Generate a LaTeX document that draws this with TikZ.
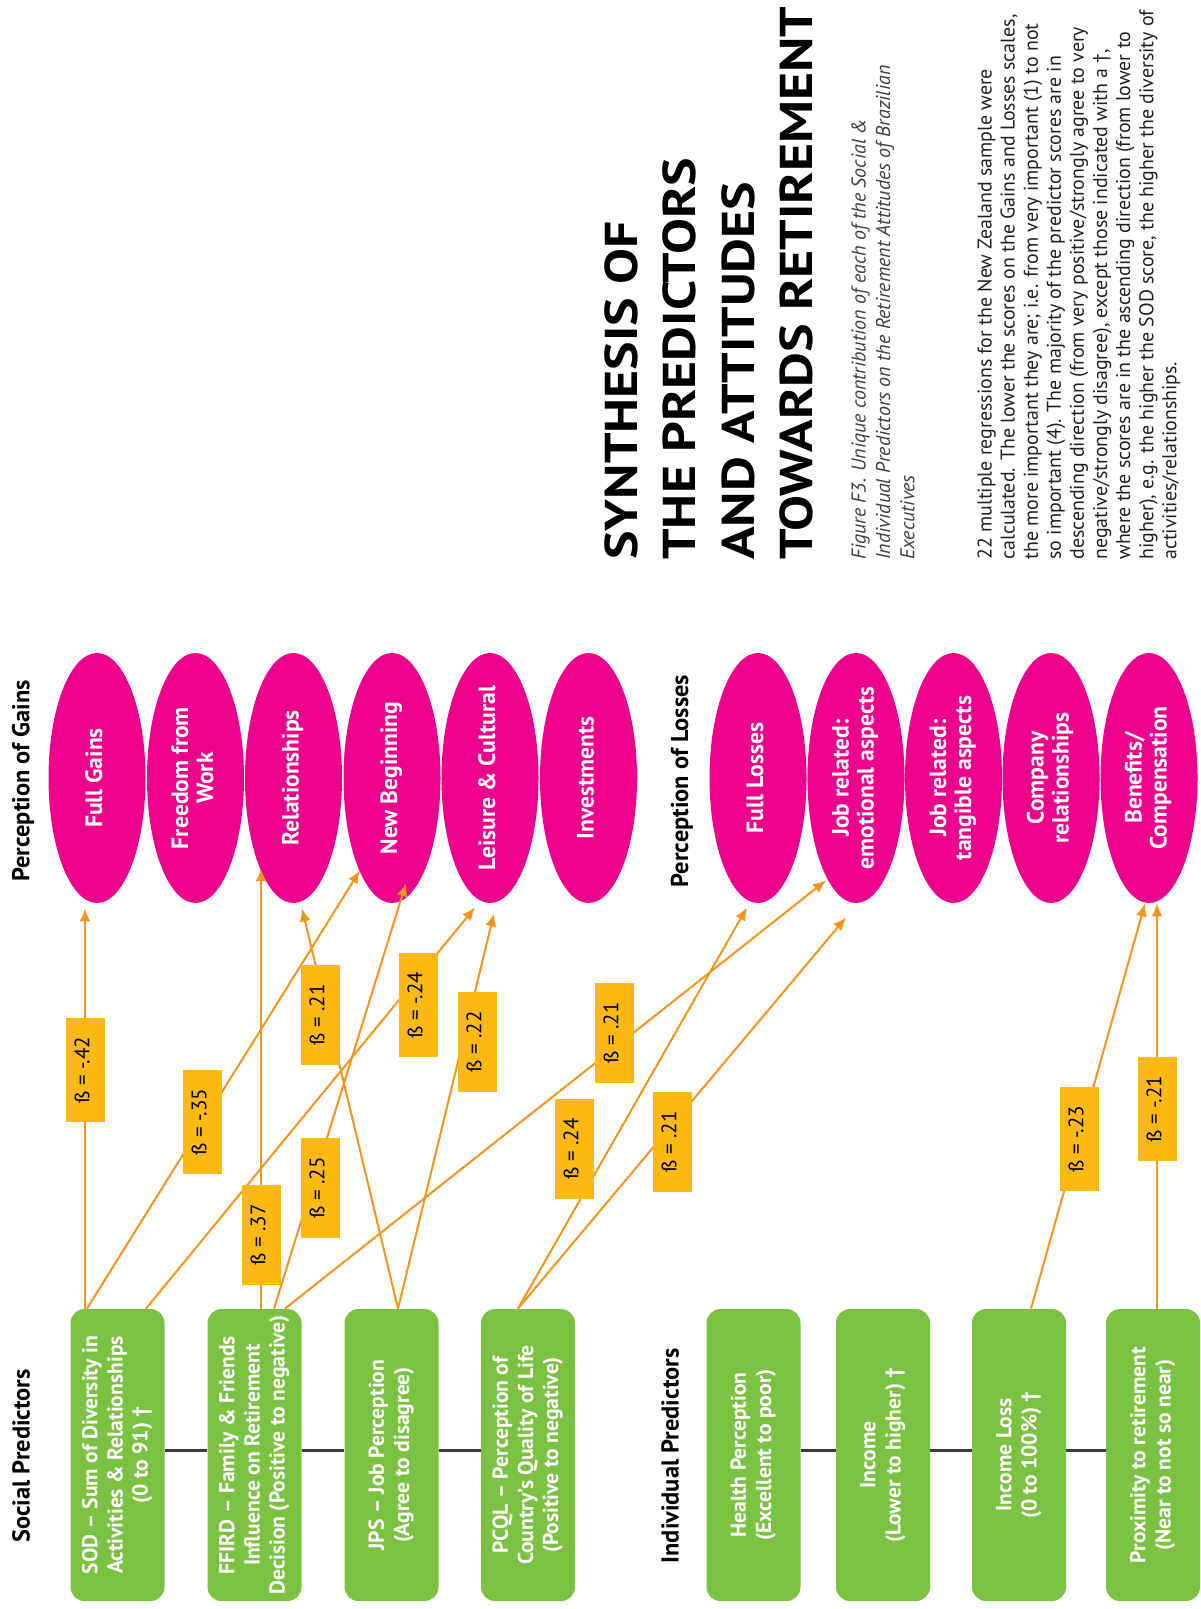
\documentclass[tikz,border=0pt]{standalone}
\usepackage{fontspec}
\setmainfont{PT Sans}
\usepackage{graphicx}
\usetikzlibrary{arrows.meta,shapes.geometric}
\definecolor{magentaC}{HTML}{EC008C}
\definecolor{greenC}{HTML}{7CC242}
\definecolor{yellowC}{HTML}{FDB913}
\definecolor{orangeC}{HTML}{F7941D}
\definecolor{rowC}{HTML}{3A3A3A}
\definecolor{textC}{HTML}{231F20}
\definecolor{capC}{HTML}{404040}
\newcommand\vtext[1]{\rotatebox{90}{\begin{tabular}{@{}c@{}}#1\end{tabular}}}
% zero-size rotated text, centred on the node centre (keeps ellipses at their set size)
\newcommand\ztext[1]{\makebox[0pt][c]{\raisebox{-0.5\height}[0pt][0pt]{\vtext{#1}}}}
\begin{document}
\begin{tikzpicture}[x=0.5pt,y=-0.5pt,
  gain/.style={ellipse, fill=magentaC, minimum width=48.5pt, minimum height=125pt, inner sep=0pt, text=white, font=\fontsize{11.8}{12.5}\selectfont\bfseries},
  pred/.style={rectangle, rounded corners=7pt, fill=greenC, minimum width=47pt, minimum height=146pt, inner sep=0pt, text=white, font=\fontsize{10.8}{12.6}\selectfont\bfseries},
  beta/.style={rectangle, fill=yellowC, minimum width=19.5pt, inner xsep=0pt, inner ysep=9.5pt, text=black, font=\fontsize{10.5}{10.5}\selectfont},
  sec/.style={rotate=90, inner sep=0pt, text=black, font=\fontsize{12.2}{12.2}\selectfont\bfseries},
  conn/.style={draw=orangeC, line width=1pt, -{Latex[length=6.5pt,width=5.5pt]}},
  rowline/.style={draw=rowC, line width=1.5pt}]
\fill[white] (0,0) rectangle (1200,1609);
\useasboundingbox (0,0) rectangle (1200,1609);

% title block
\node[rotate=90, anchor=north west, inner sep=0pt, text=black,
  font=\fontsize{23}{29.2}\selectfont\bfseries] (title) at (596,560)
  {\scalebox{1.17}[1]{\begin{tabular}{@{}l@{}}SYNTHESIS OF\\THE PREDICTORS\\AND ATTITUDES\\TOWARDS RETIREMENT\end{tabular}}};
\node[rotate=90, anchor=north west, inner sep=0pt, align=left, text=capC,
  font=\fontsize{10}{12.2}\selectfont\itshape] (caption) at (851,560)
  {Figure F3. Unique contribution of each of the Social \&\\Individual Predictors on the Retirement Attitudes of Brazilian\\Executives};
\node[rotate=90, anchor=north west, inner sep=0pt, align=left, text=textC,
  font=\fontsize{9.95}{11.55}\selectfont] (para) at (977,560)
  {22 multiple regressions for the New Zealand sample were\\
   calculated. The lower the scores on the Gains and Losses scales,\\
   the more important they are; i.e. from very important (1) to not\\
   so important (4). The majority of the predictor scores are in\\
   descending direction (from very positive/strongly agree to very\\
   negative/strongly disagree), except those indicated with a †,\\
   where the scores are in the ascending direction (from lower to\\
   higher), e.g. the higher the SOD score, the higher the diversity of\\
   activities/relationships.};

% section labels
\node[sec] (pg) at (23,781) {Perception of Gains};
\node[sec] (pl) at (682,781) {Perception of Losses};
\node[sec] (sp) at (21,1456) {Social Predictors};
\node[sec] (ip) at (670,1456) {Individual Predictors};

% gains
\node[gain] (fg) at (97,778) {\ztext{Full Gains}};
\node[gain] (fw) at (195.5,778) {\ztext{Freedom from\\Work}};
\node[gain] (rel) at (293.5,778) {\ztext{Relationships}};
\node[gain] (nb) at (392,778) {\ztext{New Beginning}};
\node[gain] (lc) at (490,778) {\ztext{Leisure \& Cultural}};
\node[gain] (inv) at (588.5,778) {\ztext{Investments}};
% losses
\node[gain] (fl) at (758,778) {\ztext{Full Losses}};
\node[gain] (je) at (856,778) {\ztext{Job related:\\emotional aspects}};
\node[gain] (jt) at (953.5,778) {\ztext{Job related:\\tangible aspects}};
\node[gain] (cr) at (1051,778) {\ztext{Company\\relationships}};
\node[gain] (bc) at (1149,778) {\ztext{Benefits/\\Compensation}};

% predictors
\node[pred] (sod) at (117.5,1455) {\vtext{SOD – Sum of Diversity in\\Activities \& Relationships\\(0 to 91) †}};
\node[pred] (ffird) at (254.5,1455) {\vtext{FFIRD – Family \& Friends\\Influence on Retirement\\Decision (Positive to negative)}};
\node[pred] (jps) at (391.5,1455) {\vtext{JPS – Job Perception\\(Agree to disagree)}};
\node[pred] (pcql) at (528,1455) {\vtext{PCQL – Perception of\\Country’s Quality of Life\\(Positive to negative)}};
\node[pred] (hp) at (753.5,1455) {\vtext{Health Perception\\(Excellent to poor)}};
\node[pred] (inc) at (883,1455) {\vtext{Income\\(Lower to higher) †}};
\node[pred] (il) at (1019,1455) {\vtext{Income Loss\\(0 to 100\%) †}};
\node[pred] (prox) at (1153,1455) {\vtext{Proximity to retirement\\(Near to not so near)}};

% row lines
\draw[rowline] ([yshift=2.5pt]sod.east) -- ([yshift=2.5pt]ffird.west);
\draw[rowline] ([yshift=2.5pt]ffird.east) -- ([yshift=2.5pt]jps.west);
\draw[rowline] ([yshift=2.5pt]jps.east) -- ([yshift=2.5pt]pcql.west);
\draw[rowline] ([yshift=2.5pt]hp.east) -- ([yshift=2.5pt]inc.west);
\draw[rowline] ([yshift=2.5pt]inc.east) -- ([yshift=2.5pt]il.west);
\draw[rowline] ([yshift=2.5pt]il.east) -- ([yshift=2.5pt]prox.west);

% connectors
\draw[conn] ([shift={(-32.5,0)}]sod.north) -- ([shift={(-12,5)}]fg.south);
\draw[conn] ([shift={(-30.5,0)}]sod.north) -- ([shift={(-32,-33)}]nb.south);
\draw[conn] ([shift={(28.5,0)}]sod.north) -- ([shift={(-15,4)}]lc.south);
\draw[conn] ([shift={(6.5,0)}]ffird.north) -- ([shift={(-32.5,-35)}]rel.south);
\draw[conn] ([shift={(19.5,0)}]ffird.north) -- ([shift={(14,-20)}]nb.south);
\draw[conn] ([shift={(30.5,0)}]ffird.north) -- ([shift={(-30,-23)}]je.south);
\draw[conn] ([shift={(6.5,0)}]jps.north) -- ([shift={(8.5,5)}]rel.south);
\draw[conn] ([shift={(6.5,0)}]jps.north) -- ([shift={(4,10)}]lc.south);
\draw[conn] ([shift={(-10,0)}]pcql.north) -- ([shift={(-11,4)}]fl.south);
\draw[conn] ([shift={(-10,0)}]pcql.north) -- ([shift={(-10,14)}]je.south);
\draw[conn] ([shift={(12,0)}]il.north) -- ([shift={(-4,0)}]bc.south);
\draw[conn] ([shift={(4,0)}]prox.north) -- ([shift={(8,0)}]bc.south);

% beta labels
\node[beta] (b1) at (85,1070) {\vtext{ß = -.42}};
\node[beta] (b2) at (202,1122) {\vtext{ß = -.35}};
\node[beta] (b3) at (261,1235) {\vtext{ß = .37}};
\node[beta] (b4) at (320,1015) {\vtext{ß = .21}};
\node[beta] (b5) at (320,1188) {\vtext{ß = .25}};
\node[beta] (b6) at (418,1005) {\vtext{ß = -.24}};
\node[beta] (b7) at (477,1042) {\vtext{ß = .22}};
\node[beta] (b8) at (574,1149) {\vtext{ß = .24}};
\node[beta] (b9) at (614,1033) {\vtext{ß = .21}};
\node[beta] (b10) at (672,1142) {\vtext{ß = .21}};
\node[beta] (b11) at (1079,1139) {\vtext{ß = -.23}};
\node[beta] (b12) at (1157,1109) {\vtext{ß = -.21}};
\end{tikzpicture}
\end{document}
